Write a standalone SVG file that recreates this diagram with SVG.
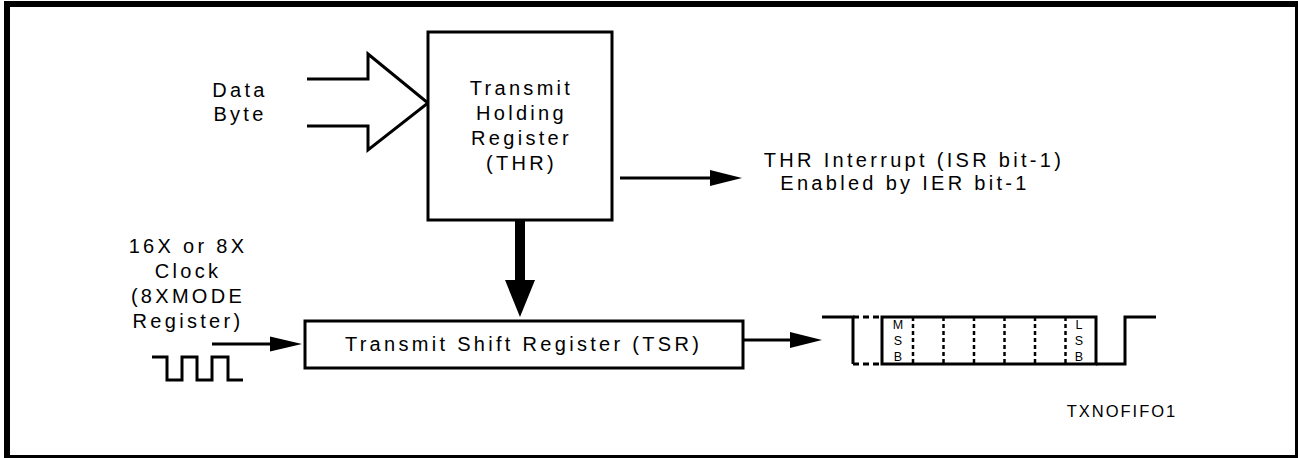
<svg xmlns="http://www.w3.org/2000/svg" width="1298" height="458" viewBox="0 0 1298 458">
<style>
.t{font-family:"Liberation Sans",Arial,sans-serif;font-size:20px;letter-spacing:3.3px;fill:#000;text-anchor:middle}
.s{font-family:"Liberation Sans",Arial,sans-serif;font-size:12.5px;fill:#000;text-anchor:middle}
.id{font-family:"Liberation Sans",Arial,sans-serif;font-size:16.5px;letter-spacing:2px;fill:#000;text-anchor:middle}
.box{fill:#fff;stroke:#000;stroke-width:3}
.ln{fill:none;stroke:#000;stroke-width:3}
.dv{fill:none;stroke:#000;stroke-width:2.5;stroke-dasharray:4 3}
.dh{fill:none;stroke:#000;stroke-width:3;stroke-dasharray:6 4}
</style>
<rect x="0" y="0" width="1298" height="458" fill="#fff"/>
<g id="frame" fill="#000">
<rect x="4" y="1" width="1294" height="6"/>
<rect x="4" y="1" width="6" height="457"/>
<rect x="4" y="455" width="1294" height="3"/>
<rect x="1295" y="1" width="3" height="457"/>
</g>
<g id="connectors">
<path class="ln" d="M307,79 H368 V54 L428,103 L368,150 V126 H307"/>
<rect x="515" y="220" width="10" height="61" fill="#000"/>
<polygon points="505,280 535,280 520,317" fill="#000"/>
<line class="ln" x1="212" y1="344" x2="272" y2="344"/>
<polygon points="270,336.5 302,344 270,351.5" fill="#000"/>
<line class="ln" x1="620" y1="178" x2="712" y2="178"/>
<polygon points="710,170 742,178 710,186" fill="#000"/>
<line class="ln" x1="743" y1="340" x2="792" y2="340"/>
<polygon points="790,332 822,340 790,348" fill="#000"/>
</g>
<g id="data-byte">
<text class="t" x="240" y="97">Data</text>
<text class="t" x="240" y="121">Byte</text>
</g>
<g id="thr">
<rect class="box" x="428" y="32" width="184" height="188"/>
<text class="t" x="521.5" y="95">Transmit</text>
<text class="t" x="521.5" y="120">Holding</text>
<text class="t" x="521.5" y="145">Register</text>
<text class="t" x="521.5" y="170">(THR)</text>
</g>
<g id="thr-interrupt">
<text class="t" x="914" y="167">THR Interrupt (ISR bit-1)</text>
<text class="t" x="905" y="190">Enabled by IER bit-1</text>
</g>
<g id="clock">
<text class="t" x="188" y="253">16X or 8X</text>
<text class="t" x="188" y="278">Clock</text>
<text class="t" x="188" y="303">(8XMODE</text>
<text class="t" x="188" y="328">Register)</text>
<path class="ln" d="M152,357 H167 V380 H182 V357 H197 V380 H212 V357 H228 V380 H243"/>
</g>
<g id="tsr">
<rect class="box" x="305" y="321" width="438" height="47"/>
<text class="t" x="523.5" y="351">Transmit Shift Register (TSR)</text>
</g>
<g id="waveform">
<path class="ln" d="M822,317 H853 V364"/>
<path class="dh" d="M853,317 H882 M853,364 H882"/>
<path class="ln" d="M882,317 H1096 V364 H882 Z"/>
<path class="dv" d="M913,317 V364 M943.5,317 V364 M974,317 V364 M1004.5,317 V364 M1035,317 V364 M1065.5,317 V364"/>
<path class="ln" d="M1096,364 H1125 V317 H1156"/>
<text class="s" x="898" y="329">M</text>
<text class="s" x="898" y="345">S</text>
<text class="s" x="898" y="361">B</text>
<text class="s" x="1079" y="329">L</text>
<text class="s" x="1079" y="345">S</text>
<text class="s" x="1079" y="361">B</text>
</g>
<g id="label">
<text class="id" x="1122" y="417">TXNOFIFO1</text>
</g>
</svg>
